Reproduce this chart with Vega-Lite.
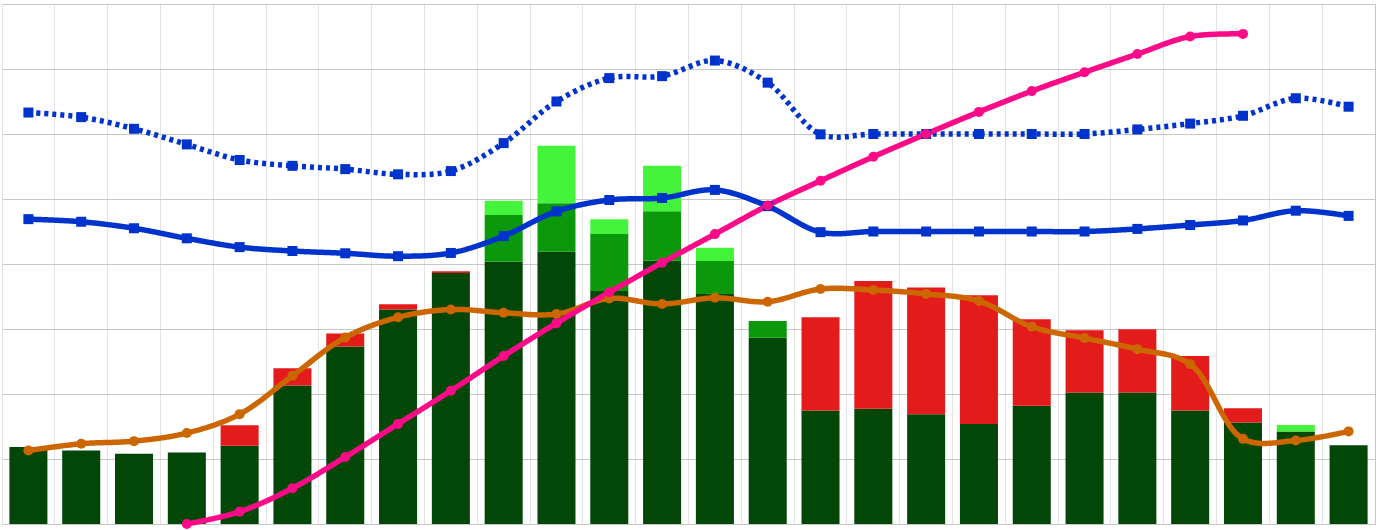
{
  "$schema": "https://vega.github.io/schema/vega-lite/v6.json",
  "autosize": {"type": "none"},
  "padding": {"left": 2, "top": 4, "right": 9, "bottom": 6},
  "width": 1373,
  "height": 520,
  "background": "white",
  "config": {
    "view": {"stroke": "#c4c4c4", "strokeWidth": 1},
    "axis": {"labels": false, "ticks": false, "domain": false, "title": null}
  },
  "resolve": {"scale": {"color": "independent"}},
  "datasets": {
    "bars": [
      {"cat": "1", "seg": "dark", "ord": 1, "value": 11.85},
      {"cat": "2", "seg": "dark", "ord": 1, "value": 11.3},
      {"cat": "3", "seg": "dark", "ord": 1, "value": 10.8},
      {"cat": "4", "seg": "dark", "ord": 1, "value": 11.0},
      {"cat": "5", "seg": "dark", "ord": 1, "value": 12.05},
      {"cat": "5", "seg": "red", "ord": 4, "value": 3.15},
      {"cat": "6", "seg": "dark", "ord": 1, "value": 21.3},
      {"cat": "6", "seg": "red", "ord": 4, "value": 2.65},
      {"cat": "7", "seg": "dark", "ord": 1, "value": 27.3},
      {"cat": "7", "seg": "red", "ord": 4, "value": 2.0},
      {"cat": "8", "seg": "dark", "ord": 1, "value": 33.0},
      {"cat": "8", "seg": "red", "ord": 4, "value": 0.8},
      {"cat": "9", "seg": "dark", "ord": 1, "value": 38.6},
      {"cat": "9", "seg": "red", "ord": 4, "value": 0.3},
      {"cat": "10", "seg": "dark", "ord": 1, "value": 40.35},
      {"cat": "10", "seg": "medium", "ord": 2, "value": 7.2},
      {"cat": "10", "seg": "light", "ord": 3, "value": 2.2},
      {"cat": "11", "seg": "dark", "ord": 1, "value": 41.9},
      {"cat": "11", "seg": "medium", "ord": 2, "value": 7.45},
      {"cat": "11", "seg": "light", "ord": 3, "value": 8.85},
      {"cat": "12", "seg": "dark", "ord": 1, "value": 35.85},
      {"cat": "12", "seg": "medium", "ord": 2, "value": 8.75},
      {"cat": "12", "seg": "light", "ord": 3, "value": 2.3},
      {"cat": "13", "seg": "dark", "ord": 1, "value": 40.5},
      {"cat": "13", "seg": "medium", "ord": 2, "value": 7.6},
      {"cat": "13", "seg": "light", "ord": 3, "value": 7.0},
      {"cat": "14", "seg": "dark", "ord": 1, "value": 35.4},
      {"cat": "14", "seg": "medium", "ord": 2, "value": 5.05},
      {"cat": "14", "seg": "light", "ord": 3, "value": 2.05},
      {"cat": "15", "seg": "dark", "ord": 1, "value": 28.65},
      {"cat": "15", "seg": "medium", "ord": 2, "value": 2.6},
      {"cat": "16", "seg": "dark", "ord": 1, "value": 17.45},
      {"cat": "16", "seg": "red", "ord": 4, "value": 14.35},
      {"cat": "17", "seg": "dark", "ord": 1, "value": 17.75},
      {"cat": "17", "seg": "red", "ord": 4, "value": 19.65},
      {"cat": "18", "seg": "dark", "ord": 1, "value": 16.9},
      {"cat": "18", "seg": "red", "ord": 4, "value": 19.5},
      {"cat": "19", "seg": "dark", "ord": 1, "value": 15.4},
      {"cat": "19", "seg": "red", "ord": 4, "value": 19.8},
      {"cat": "20", "seg": "dark", "ord": 1, "value": 18.2},
      {"cat": "20", "seg": "red", "ord": 4, "value": 13.3},
      {"cat": "21", "seg": "dark", "ord": 1, "value": 20.25},
      {"cat": "21", "seg": "red", "ord": 4, "value": 9.55},
      {"cat": "22", "seg": "dark", "ord": 1, "value": 20.25},
      {"cat": "22", "seg": "red", "ord": 4, "value": 9.7},
      {"cat": "23", "seg": "dark", "ord": 1, "value": 17.45},
      {"cat": "23", "seg": "red", "ord": 4, "value": 8.4},
      {"cat": "24", "seg": "dark", "ord": 1, "value": 15.6},
      {"cat": "24", "seg": "red", "ord": 4, "value": 2.2},
      {"cat": "25", "seg": "dark", "ord": 1, "value": 14.25},
      {"cat": "25", "seg": "light", "ord": 3, "value": 1.0},
      {"cat": "26", "seg": "dark", "ord": 1, "value": 12.1}
    ],
    "lines": [
      {"cat": "1", "series": "A", "value": 11.3},
      {"cat": "2", "series": "A", "value": 12.35},
      {"cat": "3", "series": "A", "value": 12.75},
      {"cat": "4", "series": "A", "value": 14.0},
      {"cat": "5", "series": "A", "value": 16.9},
      {"cat": "6", "series": "A", "value": 22.8},
      {"cat": "7", "series": "A", "value": 28.7},
      {"cat": "8", "series": "A", "value": 31.8},
      {"cat": "9", "series": "A", "value": 33.0},
      {"cat": "10", "series": "A", "value": 32.5},
      {"cat": "11", "series": "A", "value": 32.3},
      {"cat": "12", "series": "A", "value": 34.7},
      {"cat": "13", "series": "A", "value": 33.85},
      {"cat": "14", "series": "A", "value": 34.8},
      {"cat": "15", "series": "A", "value": 34.2},
      {"cat": "16", "series": "A", "value": 36.15},
      {"cat": "17", "series": "A", "value": 36.0},
      {"cat": "18", "series": "A", "value": 35.4},
      {"cat": "19", "series": "A", "value": 34.3},
      {"cat": "20", "series": "A", "value": 30.35},
      {"cat": "21", "series": "A", "value": 28.6},
      {"cat": "22", "series": "A", "value": 26.9},
      {"cat": "23", "series": "A", "value": 24.6},
      {"cat": "24", "series": "A", "value": 13.1},
      {"cat": "25", "series": "A", "value": 12.85},
      {"cat": "26", "series": "A", "value": 14.25},
      {"cat": "1", "series": "B", "value": 46.9},
      {"cat": "2", "series": "B", "value": 46.5},
      {"cat": "3", "series": "B", "value": 45.5},
      {"cat": "4", "series": "B", "value": 43.95},
      {"cat": "5", "series": "B", "value": 42.6},
      {"cat": "6", "series": "B", "value": 42.0},
      {"cat": "7", "series": "B", "value": 41.65},
      {"cat": "8", "series": "B", "value": 41.2},
      {"cat": "9", "series": "B", "value": 41.7},
      {"cat": "10", "series": "B", "value": 44.3},
      {"cat": "11", "series": "B", "value": 48.1},
      {"cat": "12", "series": "B", "value": 49.85},
      {"cat": "13", "series": "B", "value": 50.15},
      {"cat": "14", "series": "B", "value": 51.4},
      {"cat": "15", "series": "B", "value": 48.9},
      {"cat": "16", "series": "B", "value": 44.9},
      {"cat": "17", "series": "B", "value": 45.0},
      {"cat": "18", "series": "B", "value": 45.0},
      {"cat": "19", "series": "B", "value": 45.0},
      {"cat": "20", "series": "B", "value": 45.0},
      {"cat": "21", "series": "B", "value": 45.0},
      {"cat": "22", "series": "B", "value": 45.4},
      {"cat": "23", "series": "B", "value": 46.0},
      {"cat": "24", "series": "B", "value": 46.7},
      {"cat": "25", "series": "B", "value": 48.2},
      {"cat": "26", "series": "B", "value": 47.4},
      {"cat": "1", "series": "C", "value": 63.3},
      {"cat": "2", "series": "C", "value": 62.6},
      {"cat": "3", "series": "C", "value": 60.8},
      {"cat": "4", "series": "C", "value": 58.4},
      {"cat": "5", "series": "C", "value": 56.0},
      {"cat": "6", "series": "C", "value": 55.1},
      {"cat": "7", "series": "C", "value": 54.6},
      {"cat": "8", "series": "C", "value": 53.8},
      {"cat": "9", "series": "C", "value": 54.3},
      {"cat": "10", "series": "C", "value": 58.6},
      {"cat": "11", "series": "C", "value": 65.0},
      {"cat": "12", "series": "C", "value": 68.6},
      {"cat": "13", "series": "C", "value": 68.9},
      {"cat": "14", "series": "C", "value": 71.3},
      {"cat": "15", "series": "C", "value": 67.9},
      {"cat": "16", "series": "C", "value": 59.95},
      {"cat": "17", "series": "C", "value": 60.0},
      {"cat": "18", "series": "C", "value": 60.0},
      {"cat": "19", "series": "C", "value": 60.0},
      {"cat": "20", "series": "C", "value": 60.0},
      {"cat": "21", "series": "C", "value": 60.0},
      {"cat": "22", "series": "C", "value": 60.7},
      {"cat": "23", "series": "C", "value": 61.6},
      {"cat": "24", "series": "C", "value": 62.8},
      {"cat": "25", "series": "C", "value": 65.5},
      {"cat": "26", "series": "C", "value": 64.2},
      {"cat": "4", "series": "D", "value": 0.0},
      {"cat": "5", "series": "D", "value": 1.9},
      {"cat": "6", "series": "D", "value": 5.5},
      {"cat": "7", "series": "D", "value": 10.3},
      {"cat": "8", "series": "D", "value": 15.4},
      {"cat": "9", "series": "D", "value": 20.5},
      {"cat": "10", "series": "D", "value": 25.85},
      {"cat": "11", "series": "D", "value": 30.9},
      {"cat": "12", "series": "D", "value": 35.65},
      {"cat": "13", "series": "D", "value": 40.2},
      {"cat": "14", "series": "D", "value": 44.6},
      {"cat": "15", "series": "D", "value": 49.0},
      {"cat": "16", "series": "D", "value": 52.8},
      {"cat": "17", "series": "D", "value": 56.5},
      {"cat": "18", "series": "D", "value": 60.0},
      {"cat": "19", "series": "D", "value": 63.4},
      {"cat": "20", "series": "D", "value": 66.6},
      {"cat": "21", "series": "D", "value": 69.5},
      {"cat": "22", "series": "D", "value": 72.3},
      {"cat": "23", "series": "D", "value": 75.0},
      {"cat": "24", "series": "D", "value": 75.4}
    ]
  },
  "layer": [
    {
      "data": {"name": "bars"},
      "mark": {"type": "bar"},
      "encoding": {
        "x": {
          "field": "cat", "type": "ordinal", "sort": null,
          "scale": {"type": "band", "paddingInner": 0.28, "paddingOuter": 0.14,
            "domain": ["1","2","3","4","5","6","7","8","9","10","11","12","13","14","15","16","17","18","19","20","21","22","23","24","25","26"]},
          "axis": {"grid": true, "gridColor": "#e3e3e3", "gridWidth": 1, "bandPosition": -0.1944}
        },
        "y": {
          "field": "value", "type": "quantitative", "stack": "zero",
          "scale": {"domain": [0, 80], "nice": false, "zero": true},
          "axis": {"grid": true, "gridColor": "#c6c6c6", "gridWidth": 1, "values": [0, 10, 20, 30, 40, 50, 60, 70, 80]}
        },
        "color": {
          "field": "seg", "type": "nominal", "legend": null,
          "scale": {"domain": ["dark", "medium", "light", "red"], "range": ["#034708", "#0b990b", "#44f43a", "#e41b1b"]}
        },
        "order": {"field": "ord", "type": "quantitative"}
      }
    },
    {
      "data": {"name": "lines"},
      "layer": [
        {
          "mark": {"type": "line", "interpolate": "catmull-rom", "strokeWidth": 5.5, "strokeCap": "butt"},
          "encoding": {
            "x": {"field": "cat", "type": "ordinal", "sort": null, "scale": {"type": "band"}},
            "y": {"field": "value", "type": "quantitative"},
            "color": {
              "field": "series", "type": "nominal", "legend": null,
              "scale": {"domain": ["A", "B", "C", "D"], "range": ["#cc6600", "#0033cc", "#0033cc", "#fc0a88"]}
            },
            "strokeDash": {
              "field": "series", "type": "nominal", "legend": null,
              "scale": {"domain": ["A", "B", "C", "D"], "range": [[1, 0], [1, 0], [4, 4], [1, 0]]}
            }
          }
        },
        {
          "mark": {"type": "point", "filled": true, "opacity": 1, "size": 100},
          "encoding": {
            "x": {"field": "cat", "type": "ordinal", "sort": null, "scale": {"type": "band"}},
            "y": {"field": "value", "type": "quantitative"},
            "color": {
              "field": "series", "type": "nominal", "legend": null,
              "scale": {"domain": ["A", "B", "C", "D"], "range": ["#cc6600", "#0033cc", "#0033cc", "#fc0a88"]}
            },
            "shape": {
              "field": "series", "type": "nominal", "legend": null,
              "scale": {"domain": ["A", "B", "C", "D"], "range": ["circle", "square", "square", "circle"]}
            }
          }
        }
      ]
    }
  ]
}
